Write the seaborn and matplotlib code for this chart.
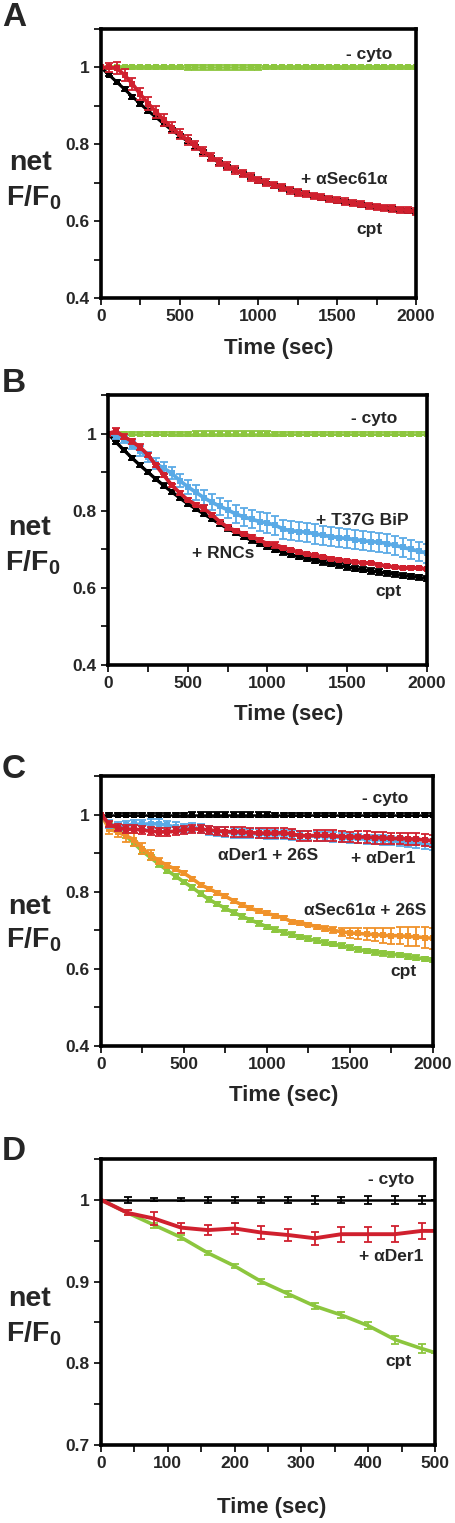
import matplotlib

matplotlib.use("Agg")
import matplotlib.pyplot as plt
import matplotlib.ticker as mticker
import numpy as np
import pandas as pd
import seaborn as sns

sns.set_style("white")
plt.rcParams["font.family"] = ["Liberation Sans", "DejaVu Sans"]
plt.rcParams["mathtext.fontset"] = "custom"
plt.rcParams["mathtext.bf"] = "Liberation Sans:bold"
plt.rcParams["mathtext.rm"] = "Liberation Sans"

# ---------------------------------------------------------
# data
# ---------------------------------------------------------
t_long = [0, 50, 100, 150, 200, 250, 300, 350, 400, 450, 500,
          550, 600, 650, 700, 750, 800, 850, 900, 950, 1000,
          1050, 1100, 1150, 1200, 1250, 1300, 1350, 1400, 1450, 1500,
          1550, 1600, 1650, 1700, 1750, 1800, 1850, 1900, 1950, 2000]
t_short = [0, 40, 80, 120, 160, 200, 240, 280, 320, 360, 400, 440, 480, 500]

flat_long = [1.000, 1.000, 1.000, 1.000, 1.000, 1.000, 1.000, 1.000, 1.000, 1.000, 1.000,
             1.000, 1.000, 1.000, 1.000, 1.000, 1.000, 1.000, 1.000, 1.000, 1.000,
             1.000, 1.000, 1.000, 1.000, 1.000, 1.000, 1.000, 1.000, 1.000, 1.000,
             1.000, 1.000, 1.000, 1.000, 1.000, 1.000, 1.000, 1.000, 1.000, 1.000]
flat_err = [0.000, 0.003, 0.003, 0.004, 0.004, 0.004, 0.004, 0.004, 0.005, 0.005, 0.005,
            0.006, 0.006, 0.007, 0.007, 0.007, 0.007, 0.007, 0.006, 0.006, 0.006,
            0.005, 0.005, 0.004, 0.004, 0.004, 0.004, 0.004, 0.004, 0.004, 0.004,
            0.004, 0.004, 0.004, 0.004, 0.004, 0.004, 0.004, 0.004, 0.004, 0.004]

# panel A
a_cpt = [1.000, 0.981, 0.962, 0.943, 0.924, 0.905, 0.887, 0.870, 0.853, 0.837, 0.822,
         0.808, 0.794, 0.780, 0.765, 0.752, 0.742, 0.732, 0.723, 0.714, 0.705,
         0.698, 0.692, 0.686, 0.680, 0.675, 0.670, 0.665, 0.661, 0.657, 0.653,
         0.649, 0.646, 0.643, 0.640, 0.637, 0.634, 0.632, 0.630, 0.627, 0.624]
a_cpt_err = [0.000, 0.004, 0.004, 0.005, 0.005, 0.005, 0.005, 0.005, 0.005, 0.005, 0.005,
             0.005, 0.005, 0.005, 0.005, 0.005, 0.005, 0.005, 0.005, 0.005, 0.005,
             0.005, 0.005, 0.005, 0.005, 0.005, 0.005, 0.005, 0.005, 0.005, 0.005,
             0.005, 0.005, 0.005, 0.005, 0.005, 0.005, 0.005, 0.005, 0.005, 0.006]
a_sec61 = [1.000, 1.000, 0.998, 0.980, 0.957, 0.930, 0.906, 0.884, 0.863, 0.843, 0.826,
           0.811, 0.797, 0.782, 0.767, 0.754, 0.743, 0.733, 0.724, 0.715, 0.707,
           0.700, 0.694, 0.688, 0.680, 0.674, 0.670, 0.666, 0.662, 0.658, 0.654,
           0.651, 0.648, 0.644, 0.640, 0.637, 0.635, 0.633, 0.630, 0.628, 0.625]
a_sec61_err = [0.000, 0.012, 0.015, 0.015, 0.016, 0.016, 0.016, 0.015, 0.015, 0.014, 0.013,
               0.013, 0.012, 0.012, 0.011, 0.011, 0.010, 0.010, 0.010, 0.010, 0.009,
               0.009, 0.009, 0.009, 0.009, 0.009, 0.008, 0.008, 0.008, 0.008, 0.008,
               0.008, 0.008, 0.008, 0.008, 0.008, 0.008, 0.008, 0.008, 0.008, 0.008]

# panel B
b_cpt = [1.000, 0.978, 0.957, 0.937, 0.918, 0.900, 0.882, 0.865, 0.849, 0.833, 0.818,
         0.805, 0.792, 0.779, 0.766, 0.754, 0.743, 0.733, 0.723, 0.714, 0.706,
         0.699, 0.692, 0.686, 0.680, 0.675, 0.670, 0.666, 0.662, 0.658, 0.654,
         0.650, 0.647, 0.644, 0.641, 0.638, 0.635, 0.632, 0.630, 0.627, 0.624]
b_cpt_err = [0.000, 0.004, 0.005, 0.005, 0.005, 0.005, 0.006, 0.006, 0.006, 0.006, 0.006,
             0.006, 0.006, 0.006, 0.006, 0.006, 0.006, 0.006, 0.006, 0.006, 0.006,
             0.006, 0.006, 0.006, 0.006, 0.006, 0.006, 0.006, 0.006, 0.006, 0.007,
             0.007, 0.007, 0.007, 0.007, 0.007, 0.007, 0.007, 0.007, 0.007, 0.007]
b_rnc = [1.000, 1.006, 0.992, 0.980, 0.965, 0.945, 0.918, 0.892, 0.866, 0.846, 0.828,
         0.816, 0.806, 0.790, 0.772, 0.757, 0.748, 0.740, 0.733, 0.724, 0.714,
         0.712, 0.704, 0.698, 0.692, 0.688, 0.684, 0.680, 0.676, 0.673, 0.670,
         0.667, 0.665, 0.664, 0.660, 0.656, 0.654, 0.652, 0.652, 0.651, 0.649]
b_rnc_err = [0.000, 0.008, 0.006, 0.006, 0.008, 0.005, 0.004, 0.004, 0.004, 0.004, 0.004,
             0.005, 0.008, 0.004, 0.004, 0.006, 0.004, 0.004, 0.004, 0.004, 0.004,
             0.008, 0.004, 0.004, 0.004, 0.003, 0.003, 0.003, 0.003, 0.003, 0.003,
             0.003, 0.003, 0.003, 0.003, 0.003, 0.003, 0.003, 0.004, 0.003, 0.003]
b_t37g = [1.000, 0.995, 0.985, 0.970, 0.955, 0.940, 0.922, 0.910, 0.897, 0.878, 0.862,
          0.848, 0.834, 0.822, 0.812, 0.802, 0.792, 0.784, 0.778, 0.772, 0.768,
          0.762, 0.752, 0.748, 0.746, 0.744, 0.740, 0.736, 0.733, 0.730, 0.728,
          0.725, 0.722, 0.720, 0.718, 0.715, 0.710, 0.705, 0.700, 0.695, 0.690]
b_t37g_err = [0.000, 0.008, 0.010, 0.011, 0.012, 0.013, 0.014, 0.015, 0.016, 0.017, 0.018,
              0.019, 0.020, 0.021, 0.022, 0.022, 0.023, 0.023, 0.024, 0.024, 0.025,
              0.025, 0.025, 0.025, 0.025, 0.025, 0.025, 0.025, 0.025, 0.025, 0.025,
              0.025, 0.025, 0.025, 0.025, 0.025, 0.025, 0.025, 0.025, 0.025, 0.025]

# panel C
c_der1_26s = [1.000, 0.975, 0.970, 0.972, 0.975, 0.975, 0.976, 0.976, 0.972, 0.968, 0.964,
              0.966, 0.964, 0.958, 0.956, 0.955, 0.952, 0.950, 0.950, 0.950, 0.948,
              0.948, 0.948, 0.947, 0.946, 0.945, 0.944, 0.943, 0.942, 0.940, 0.938,
              0.938, 0.936, 0.935, 0.934, 0.932, 0.930, 0.928, 0.926, 0.924, 0.920]
c_der1_26s_err = [0.000, 0.010, 0.012, 0.012, 0.012, 0.012, 0.012, 0.012, 0.012, 0.012, 0.012,
                  0.012, 0.012, 0.012, 0.012, 0.012, 0.012, 0.012, 0.012, 0.012, 0.012,
                  0.012, 0.012, 0.012, 0.012, 0.012, 0.012, 0.012, 0.012, 0.012, 0.012,
                  0.012, 0.012, 0.012, 0.012, 0.012, 0.012, 0.012, 0.012, 0.012, 0.012]
c_der1 = [1.000, 0.975, 0.966, 0.962, 0.962, 0.960, 0.957, 0.955, 0.955, 0.957, 0.960,
          0.963, 0.962, 0.960, 0.958, 0.956, 0.955, 0.955, 0.953, 0.952, 0.952,
          0.952, 0.953, 0.950, 0.945, 0.945, 0.946, 0.946, 0.945, 0.943, 0.942,
          0.942, 0.942, 0.940, 0.940, 0.938, 0.938, 0.937, 0.936, 0.934, 0.932]
c_der1_err = [0.000, 0.008, 0.009, 0.010, 0.010, 0.010, 0.010, 0.010, 0.010, 0.010, 0.010,
              0.011, 0.011, 0.011, 0.011, 0.012, 0.012, 0.012, 0.012, 0.012, 0.012,
              0.013, 0.013, 0.013, 0.013, 0.013, 0.014, 0.014, 0.014, 0.014, 0.014,
              0.015, 0.015, 0.015, 0.015, 0.015, 0.015, 0.015, 0.015, 0.015, 0.015]
c_sec61_26s = [1.000, 0.962, 0.955, 0.945, 0.935, 0.912, 0.895, 0.880, 0.868, 0.858, 0.848,
               0.834, 0.818, 0.808, 0.797, 0.788, 0.776, 0.766, 0.757, 0.750, 0.744,
               0.738, 0.732, 0.722, 0.720, 0.715, 0.709, 0.704, 0.700, 0.696, 0.693,
               0.692, 0.690, 0.689, 0.687, 0.686, 0.686, 0.684, 0.683, 0.681, 0.679]
c_sec61_26s_err = [0.000, 0.012, 0.014, 0.015, 0.016, 0.015, 0.012, 0.008, 0.006, 0.005, 0.005,
                   0.005, 0.005, 0.005, 0.005, 0.005, 0.005, 0.005, 0.005, 0.005, 0.005,
                   0.005, 0.005, 0.005, 0.005, 0.005, 0.005, 0.006, 0.008, 0.010, 0.012,
                   0.014, 0.016, 0.018, 0.020, 0.021, 0.022, 0.024, 0.025, 0.027, 0.028]
c_cpt = [1.000, 0.975, 0.960, 0.945, 0.925, 0.905, 0.888, 0.871, 0.855, 0.840, 0.825,
         0.811, 0.795, 0.780, 0.768, 0.757, 0.746, 0.736, 0.727, 0.718, 0.709,
         0.702, 0.695, 0.689, 0.683, 0.678, 0.673, 0.668, 0.664, 0.660, 0.655,
         0.651, 0.646, 0.643, 0.640, 0.638, 0.636, 0.632, 0.629, 0.626, 0.623]
c_cpt_err = [0.000, 0.005, 0.006, 0.006, 0.006, 0.006, 0.006, 0.006, 0.006, 0.006, 0.006,
             0.006, 0.006, 0.006, 0.006, 0.006, 0.006, 0.006, 0.006, 0.006, 0.006,
             0.006, 0.006, 0.006, 0.006, 0.006, 0.006, 0.006, 0.006, 0.006, 0.006,
             0.006, 0.006, 0.006, 0.006, 0.006, 0.006, 0.006, 0.006, 0.006, 0.006]

# panel D
d_cyto = [1.000, 1.000, 1.000, 1.000, 1.000, 1.000, 1.000, 1.000, 1.000, 1.000, 1.000, 1.000, 1.000, 1.000]
d_cyto_err = [0.000, 0.004, 0.002, 0.002, 0.004, 0.004, 0.004, 0.004, 0.005, 0.004, 0.005, 0.005, 0.005, 0.000]
d_der1 = [1.000, 0.984, 0.977, 0.966, 0.963, 0.965, 0.960, 0.957, 0.953, 0.958, 0.958, 0.958, 0.962, 0.962]
d_der1_err = [0.000, 0.003, 0.008, 0.006, 0.006, 0.007, 0.008, 0.007, 0.008, 0.009, 0.009, 0.010, 0.010, 0.000]
d_cpt = [1.000, 0.984, 0.969, 0.954, 0.935, 0.919, 0.900, 0.885, 0.870, 0.859, 0.846, 0.829, 0.818, 0.813]
d_cpt_err = [0.000, 0.003, 0.003, 0.003, 0.003, 0.003, 0.003, 0.004, 0.004, 0.004, 0.004, 0.005, 0.006, 0.000]

GREEN = "#8cc63e"
RED = "#d0202e"
BLUE = "#5aaae6"
ORANGE = "#f0922a"
BLACK = "#000000"

W, H = 456, 1523
fig = plt.figure(figsize=(W / 100, H / 100), dpi=100)


def px_axes(left, top, right, bottom):
    return fig.add_axes([left / W, 1 - bottom / H, (right - left) / W, (bottom - top) / H])


def draw_series(ax, t, series, marker, lw=2.7):
    # series: list of (name, values, errors, colour, linewidth), drawn in order
    for name, vals, errs, col, w in series:
        df = pd.DataFrame({"time": t, "value": vals})
        sns.lineplot(data=df, x="time", y="value", color=col, linewidth=w,
                     marker=marker, markersize=4, markeredgewidth=0, ax=ax,
                     label=name, legend=False)
        ax.errorbar(t, vals, yerr=errs, fmt="none", ecolor=col, elinewidth=1.3,
                    capsize=2.6, capthick=1.3)


def style_axes(ax, xmax, xmaj, xmin, ylo, yhi, ymaj, ymin, xlabel_x, xlabel_y,
               net_x, net_y, f_y):
    ax.set_xlim(0, xmax)
    ax.set_ylim(ylo, yhi)
    ax.xaxis.set_major_locator(mticker.MultipleLocator(xmaj))
    ax.xaxis.set_minor_locator(mticker.MultipleLocator(xmin))
    ax.yaxis.set_major_locator(mticker.MultipleLocator(ymaj))
    ax.yaxis.set_minor_locator(mticker.MultipleLocator(ymin))
    ax.yaxis.set_major_formatter(mticker.FuncFormatter(
        lambda v, p: "1" if abs(v - 1) < 1e-9 else f"{v:.1f}"))
    ax.tick_params(which="both", direction="out", length=5, width=1.2,
                   left=True, bottom=True, top=False, right=False, color="black")
    ax.tick_params(which="major", labelsize=12.5, pad=3)
    for lab in ax.get_xticklabels() + ax.get_yticklabels():
        lab.set_fontweight("bold")
    for s in ax.spines.values():
        s.set_linewidth(2.6)
        s.set_color("black")
    ax.set_xlabel("Time (sec)", fontsize=16, fontweight="bold")
    ax.xaxis.set_label_coords(xlabel_x, xlabel_y)
    ax.xaxis.label.set_va("center")
    ax.set_ylabel("")
    ax.text(net_x, net_y, "net", transform=ax.transAxes, fontsize=20.5,
            fontweight="bold", ha="center", va="center")
    ax.text(net_x + 0.01, f_y, r"F/F$_\mathbf{0}$", transform=ax.transAxes,
            fontsize=20.5, fontweight="bold", ha="center", va="center")


def label(ax, x, y, s, ha="center"):
    ax.text(x, y, s, fontsize=12.5, fontweight="bold", ha=ha, va="center")


def panel_letter(s, px_y):
    fig.text(14 / W, 1 - px_y / H, s, fontsize=24, fontweight="bold",
             ha="center", va="center")


# ---------------------------------------------------------
# A
# ---------------------------------------------------------
axA = px_axes(101, 29, 416, 298)
draw_series(axA, t_long, [
    ("- cyto", flat_long, flat_err, GREEN, 1.8),
    ("cpt", a_cpt, a_cpt_err, BLACK, 2.2),
    ("+ aSec61a", a_sec61, a_sec61_err, RED, 2.7),
], "s")
style_axes(axA, 2000, 500, 250, 0.4, 1.1, 0.2, 0.1, 0.565, -0.186, -0.225, 0.502, 0.372)
label(axA, 1700, 1.034, "- cyto")
label(axA, 1546, 0.708, "+ αSec61α")
label(axA, 1704, 0.577, "cpt")
panel_letter("A", 17)

# ---------------------------------------------------------
# B
# ---------------------------------------------------------
axB = px_axes(108, 395, 427, 665)
draw_series(axB, t_long, [
    ("- cyto", flat_long, flat_err, GREEN, 1.8),
    ("cpt", b_cpt, b_cpt_err, BLACK, 2.4),
    ("+ T37G BiP", b_t37g, b_t37g_err, BLUE, 2.7),
    ("+ RNCs", b_rnc, b_rnc_err, RED, 2.7),
], "s")
style_axes(axB, 2000, 500, 250, 0.4, 1.1, 0.2, 0.1, 0.565, -0.185, -0.245, 0.507, 0.378)
label(axB, 1666, 1.039, "- cyto")
label(axB, 1593, 0.774, "+ T37G BiP")
label(axB, 725, 0.688, "+ RNCs")
label(axB, 1760, 0.590, "cpt")
panel_letter("B", 384)

# ---------------------------------------------------------
# C
# ---------------------------------------------------------
axC = px_axes(101, 776, 433, 1046)
draw_series(axC, t_long, [
    ("- cyto", flat_long, flat_err, BLACK, 1.8),
    ("cpt", c_cpt, c_cpt_err, GREEN, 2.6),
    ("aSec61a + 26S", c_sec61_26s, c_sec61_26s_err, ORANGE, 2.6),
    ("aDer1 + 26S", c_der1_26s, c_der1_26s_err, BLUE, 2.6),
    ("+ aDer1", c_der1, c_der1_err, RED, 2.7),
], "s")
style_axes(axC, 2000, 500, 250, 0.4, 1.1, 0.2, 0.1, 0.55, -0.185, -0.214, 0.515, 0.393)
label(axC, 1709, 1.042, "- cyto")
label(axC, 1007, 0.893, "αDer1 + 26S")
label(axC, 1699, 0.887, "+ αDer1")
label(axC, 1589, 0.752, "αSec61α + 26S")
label(axC, 1820, 0.592, "cpt")
panel_letter("C", 770)

# ---------------------------------------------------------
# D
# ---------------------------------------------------------
axD = px_axes(101, 1159, 435, 1445)
draw_series(axD, t_short, [
    ("- cyto", d_cyto, d_cyto_err, BLACK, 1.8),
    ("cpt", d_cpt, d_cpt_err, GREEN, 2.6),
    ("+ aDer1", d_der1, d_der1_err, RED, 2.8),
], None)
style_axes(axD, 500, 100, 50, 0.7, 1.05, 0.1, 0.05, 0.512, -0.217, -0.213, 0.51, 0.39)
label(axD, 435, 1.0245, "- cyto")
label(axD, 435, 0.931, "+ αDer1")
label(axD, 445, 0.802, "cpt")
panel_letter("D", 1151)

fig.savefig("out.png", dpi=100)
